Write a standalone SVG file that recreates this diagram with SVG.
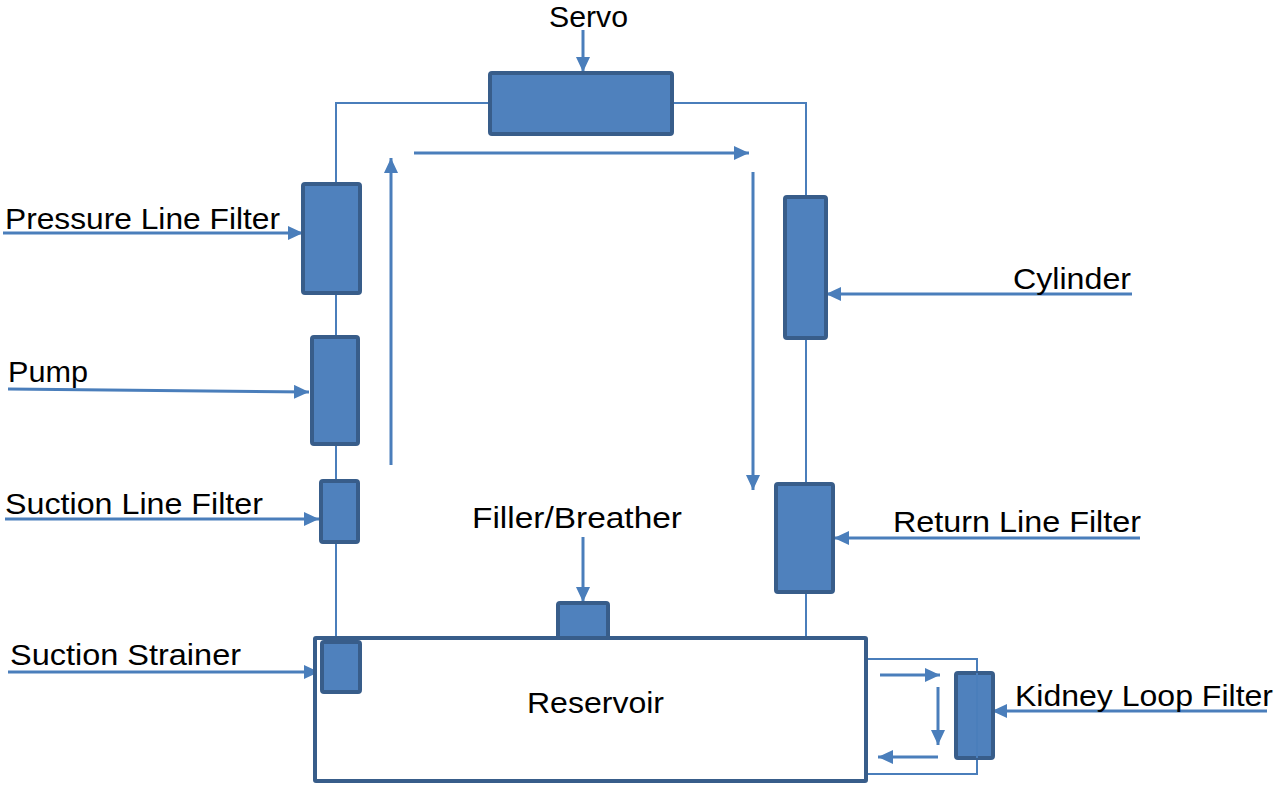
<svg xmlns="http://www.w3.org/2000/svg" width="1277" height="786" viewBox="0 0 1277 786">
<defs>
<marker id="ah" viewBox="0 0 15 14" refX="15" refY="7" markerWidth="15" markerHeight="14" markerUnits="userSpaceOnUse" orient="auto">
<path d="M0,0 L15,7 L0,14 Z" fill="#4a7ebb"/>
</marker>
<style>
.box{fill:#4f81bd;stroke:#385d8a;stroke-width:4;}
.res{fill:#fff;stroke:#385d8a;stroke-width:4;}
.pipe{fill:none;stroke:#4a7ebb;stroke-width:2;}
.arr{fill:none;stroke:#4a7ebb;stroke-width:3;marker-end:url(#ah);}
.lbl{font-family:"Liberation Sans",Arial,sans-serif;font-size:29px;fill:#000;}
</style>
</defs>
<rect width="1277" height="786" fill="#fff"/>
<g id="connectors">
<polyline class="pipe" points="336,183 336,103 490,103"/>
<polyline class="pipe" points="672,103 806,103 806,196"/>
<line class="pipe" x1="336" y1="294" x2="336" y2="336"/>
<line class="pipe" x1="336" y1="445" x2="336" y2="480"/>
<line class="pipe" x1="336" y1="543" x2="336" y2="638"/>
<line class="pipe" x1="806" y1="339" x2="806" y2="483"/>
<line class="pipe" x1="806" y1="593" x2="806" y2="636"/>
<polyline class="pipe" points="868,659 977,659 977,774 868,774"/>
<line class="arr" x1="583" y1="30" x2="583" y2="72"/>
<line class="arr" x1="414" y1="153" x2="749" y2="153"/>
<line class="arr" x1="391" y1="465" x2="391" y2="158"/>
<line class="arr" x1="753" y1="172" x2="753" y2="490"/>
<line class="arr" x1="3" y1="233" x2="303" y2="233"/>
<line class="arr" x1="8" y1="389" x2="309" y2="392"/>
<line class="arr" x1="5" y1="519" x2="319" y2="519"/>
<line class="arr" x1="8" y1="672" x2="319" y2="672"/>
<line class="arr" x1="1132" y1="294" x2="826" y2="294"/>
<line class="arr" x1="1140" y1="538" x2="834" y2="538"/>
<line class="arr" x1="583" y1="537" x2="583" y2="602"/>
<line class="arr" x1="880" y1="675" x2="940" y2="675"/>
<line class="arr" x1="938" y1="687" x2="938" y2="745"/>
<line class="arr" x1="938" y1="757" x2="878" y2="757"/>
<line class="arr" x1="1267" y1="711" x2="992" y2="711"/>
</g>
<g id="servo"><rect class="box" x="490" y="73" width="182" height="61" rx="2"/><text class="lbl" x="549" y="27" textLength="79" lengthAdjust="spacingAndGlyphs">Servo</text></g>
<g id="pressure-line-filter"><rect class="box" x="303" y="184" width="57" height="109" rx="2"/><text class="lbl" x="5" y="229" textLength="275" lengthAdjust="spacingAndGlyphs">Pressure Line Filter</text></g>
<g id="pump"><rect class="box" x="312" y="337" width="46" height="107" rx="2"/><text class="lbl" x="8" y="382" textLength="80" lengthAdjust="spacingAndGlyphs">Pump</text></g>
<g id="suction-line-filter"><rect class="box" x="321" y="481" width="37" height="61" rx="2"/><text class="lbl" x="5" y="514" textLength="258" lengthAdjust="spacingAndGlyphs">Suction Line Filter</text></g>
<g id="reservoir"><rect class="res" x="315" y="638" width="551" height="143" rx="1"/><text class="lbl" x="527" y="713" textLength="137" lengthAdjust="spacingAndGlyphs">Reservoir</text></g>
<g id="suction-strainer"><rect class="box" x="322" y="642" width="38" height="50" rx="2"/><text class="lbl" x="10" y="665" textLength="231" lengthAdjust="spacingAndGlyphs">Suction Strainer</text></g>
<g id="filler-breather"><rect class="box" x="558" y="603" width="50" height="35" rx="2"/><text class="lbl" x="472" y="528" textLength="210" lengthAdjust="spacingAndGlyphs">Filler/Breather</text></g>
<g id="cylinder"><rect class="box" x="785" y="197" width="41" height="141" rx="2"/><text class="lbl" x="1013" y="289" textLength="118" lengthAdjust="spacingAndGlyphs">Cylinder</text></g>
<g id="return-line-filter"><rect class="box" x="776" y="484" width="57" height="108" rx="2"/><text class="lbl" x="893" y="532" textLength="248" lengthAdjust="spacingAndGlyphs">Return Line Filter</text></g>
<g id="kidney-loop-filter"><rect class="box" x="956" y="673" width="37" height="85" rx="2"/><line class="pipe" x1="977" y1="673" x2="977" y2="758"/><text class="lbl" x="1015" y="706" textLength="258" lengthAdjust="spacingAndGlyphs">Kidney Loop Filter</text></g>
</svg>
